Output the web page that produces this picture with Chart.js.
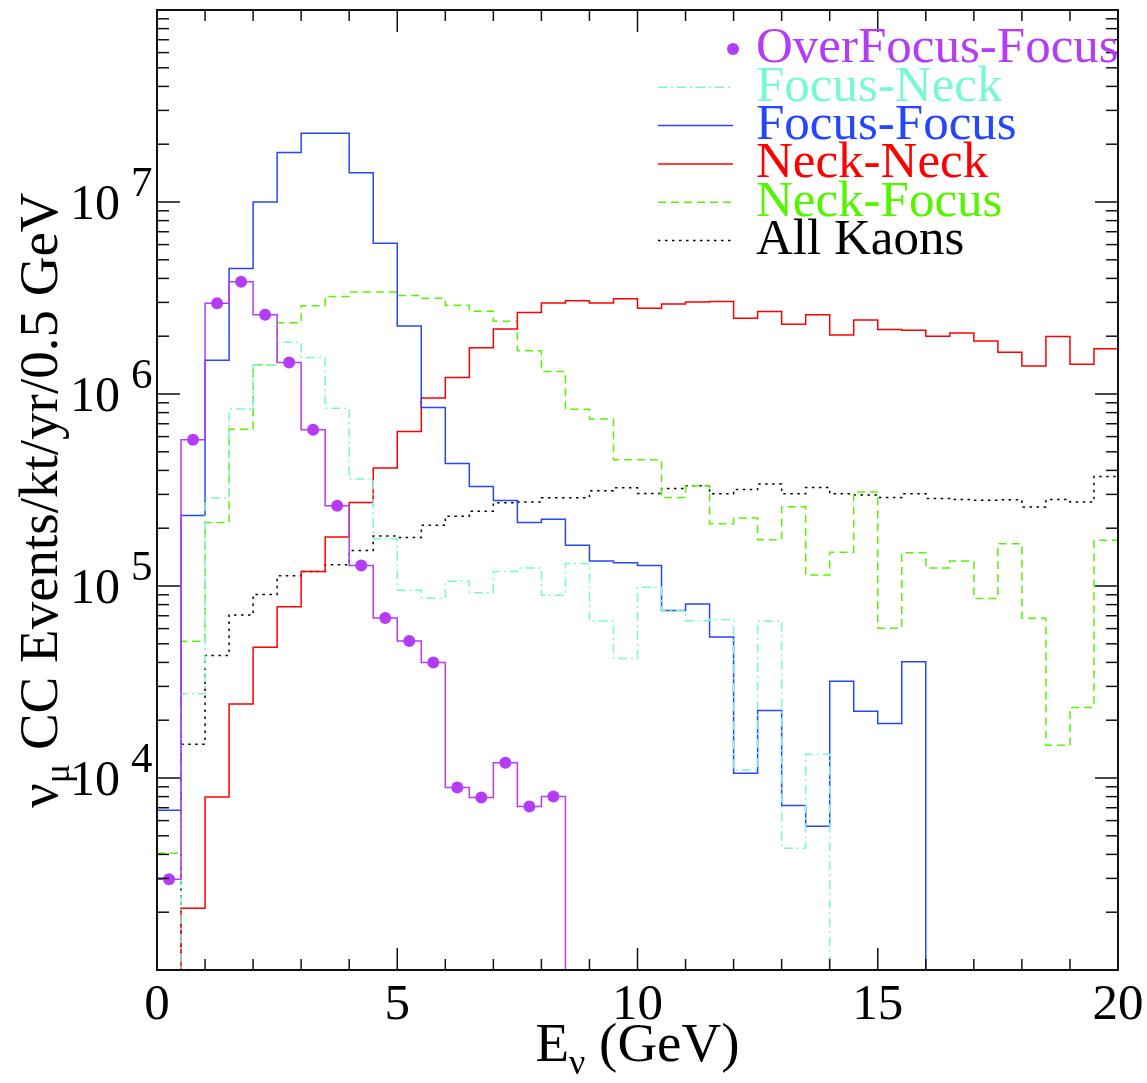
<!DOCTYPE html>
<html>
<head>
<meta charset="utf-8">
<script src="https://cdn.jsdelivr.net/npm/chart.js@4.4.1/dist/chart.umd.min.js"></script>
<style>
  html, body { margin: 0; padding: 0; background: #fff; }
  #wrap { width: 1147px; height: 1083px; }
</style>
</head>
<body>
<div id="wrap"><canvas id="fluxChart" width="1147" height="1083"></canvas></div>
<script>
// nu_mu CC events per 0.5 GeV bin, bins 0-0.5 ... 19.5-20 GeV (0 = empty bin)
const binWidth = 0.5;

const overFocusFocus = [
  2.97e3, 5.77e5, 2.97e6, 3.84e6, 2.59e6, 1.46e6, 6.52e5, 2.62e5, 1.28e5, 6.81e4,
  5.17e4, 3.99e4, 8.93e3, 7.92e3, 1.2e4, 7.1e3, 8.0e3, 0, 0, 0,
  0, 0, 0, 0, 0, 0, 0, 0, 0, 0,
  0, 0, 0, 0, 0, 0, 0, 0, 0, 0,
];
const focusNeck = [
  0, 2.75e4, 2.87e5, 8.35e5, 1.42e6, 1.86e6, 1.55e6, 8.44e5, 3.61e5, 1.76e5,
  9.5e4, 8.65e4, 1.06e5, 9.23e4, 1.19e5, 1.24e5, 8.94e4, 1.31e5, 6.57e4, 4.19e4,
  9.84e4, 7.45e4, 6.6e4, 6.7e4, 1.1e4, 6.55e4, 4.3e3, 1.33e4, 0, 0,
  0, 0, 0, 0, 0, 0, 0, 0, 0, 0,
];
const focusFocus = [
  6.8e3, 2.33e5, 1.5e6, 4.5e6, 1.0e7, 1.81e7, 2.28e7, 2.28e7, 1.42e7, 6.1e6,
  2.26e6, 8.5e5, 4.35e5, 3.3e5, 2.79e5, 2.14e5, 2.23e5, 1.63e5, 1.35e5, 1.32e5,
  1.28e5, 7.45e4, 8.06e4, 5.43e4, 1.06e4, 2.25e4, 7.2e3, 5.6e3, 3.19e4, 2.23e4,
  1.92e4, 4.03e4, 0, 0, 0, 0, 0, 0, 0, 0,
];
const neckNeck = [
  0, 2.1e3, 7.96e3, 2.43e4, 4.8e4, 7.8e4, 1.19e5, 1.8e5, 2.72e5, 4.12e5,
  6.37e5, 9.53e5, 1.22e6, 1.74e6, 2.18e6, 2.66e6, 2.98e6, 3.06e6, 2.98e6, 3.13e6,
  2.8e6, 2.94e6, 3.01e6, 3.03e6, 2.48e6, 2.69e6, 2.31e6, 2.59e6, 2.03e6, 2.43e6,
  2.17e6, 2.15e6, 2.0e6, 2.08e6, 1.89e6, 1.65e6, 1.4e6, 1.99e6, 1.43e6, 1.72e6,
];
const neckFocus = [
  4.06e3, 5.15e4, 2.14e5, 6.55e5, 1.42e6, 2.35e6, 2.88e6, 3.22e6, 3.4e6, 3.4e6,
  3.26e6, 3.15e6, 2.9e6, 2.7e6, 2.39e6, 1.68e6, 1.31e6, 8.32e5, 7.41e5, 4.54e5,
  4.54e5, 2.89e5, 3.33e5, 2.11e5, 2.26e5, 1.74e5, 2.59e5, 1.14e5, 1.5e5, 3.09e5,
  6.03e4, 1.49e5, 1.24e5, 1.35e5, 8.6e4, 1.66e5, 6.8e4, 1.48e4, 2.33e4, 1.73e5,
];
const allKaons = [
  0, 1.5e4, 4.35e4, 7.06e4, 9.04e4, 1.13e5, 1.19e5, 1.29e5, 1.53e5, 1.82e5,
  1.79e5, 2.07e5, 2.31e5, 2.45e5, 2.71e5, 2.74e5, 2.88e5, 2.88e5, 3.13e5, 3.25e5,
  3.03e5, 3.22e5, 3.33e5, 3.02e5, 3.18e5, 3.4e5, 3.02e5, 3.26e5, 3.02e5, 2.98e5,
  2.89e5, 3.02e5, 2.86e5, 2.82e5, 2.8e5, 2.81e5, 2.58e5, 2.82e5, 2.74e5, 3.72e5,
];

const seriesNames = ["OverFocus-Focus", "Focus-Neck", "Focus-Focus", "Neck-Neck", "Neck-Focus", "All Kaons"];
const seriesValues = [overFocusFocus, focusNeck, focusFocus, neckNeck, neckFocus, allKaons];

const xMajorTicks = [0, 5, 10, 15, 20];
const yLabelExps = [4, 5, 6, 7];

const styles = [
  { color: "#b43cf7", dash: [], marker: true },
  { color: "#78f8d6", dash: [9, 4, 2, 4] },
  { color: "#2446ff", dash: [] },
  { color: "#ff0000", dash: [] },
  { color: "#55f500", dash: [8, 5] },
  { color: "#000000", dash: [2.5, 4.5] },
];

const serif = "'Liberation Serif', 'DejaVu Serif', serif";
const emptyFloor = 1; // empty bins fall off the bottom of the log axis

const stepPoints = (vals) => {
  const pts = vals.map((v, i) => ({ x: i * binWidth, y: v > 0 ? v : emptyFloor }));
  pts.push({ x: vals.length * binWidth, y: pts[pts.length - 1].y });
  return pts;
};

const datasets = seriesValues.map((vals, i) => ({
  label: seriesNames[i],
  data: stepPoints(vals),
  stepped: "before",
  borderColor: styles[i].color,
  borderWidth: 1.5,
  borderDash: styles[i].dash,
  pointRadius: 0,
  fill: false,
}));

datasets.unshift({
  label: "OverFocus-Focus markers",
  data: overFocusFocus
    .map((v, i) => (v > 0 ? { x: (i + 0.5) * binWidth, y: v } : null))
    .filter((p) => p),
  showLine: false,
  pointRadius: 6,
  pointBackgroundColor: styles[0].color,
  pointBorderWidth: 0,
});

const line = (ctx, x1, y1, x2, y2) => {
  ctx.beginPath();
  ctx.moveTo(x1, y1);
  ctx.lineTo(x2, y2);
  ctx.stroke();
};

// frame, inward ticks on all four sides, labels and legend
const axesDecor = {
  id: "axesDecor",
  afterDraw(chart) {
    const { ctx, chartArea: a, scales } = chart;
    const x = scales.x;
    const y = scales.y;
    ctx.save();
    ctx.strokeStyle = "#111";
    ctx.lineWidth = 1.5;

    for (let v = 1; v < 20; v++) {
      const px = x.getPixelForValue(v);
      const len = v % 5 === 0 ? 22 : 11;
      line(ctx, px, a.bottom, px, a.bottom - len);
      line(ctx, px, a.top, px, a.top + len);
    }
    for (let e = 3; e < 8; e++) {
      for (let m = 1; m < 10; m++) {
        if (e === 3 && m === 1) continue;
        const py = y.getPixelForValue(m * 10 ** e);
        const len = m === 1 ? 23 : 12;
        line(ctx, a.left, py, a.left + len, py);
        line(ctx, a.right, py, a.right - len, py);
      }
    }
    ctx.lineWidth = 2;
    ctx.strokeRect(a.left, a.top, a.right - a.left, a.bottom - a.top);

    ctx.fillStyle = "#000";
    ctx.font = "51px " + serif;
    ctx.textAlign = "center";
    ctx.textBaseline = "alphabetic";
    xMajorTicks.forEach((v) => {
      ctx.fillText(String(v), x.getPixelForValue(v), 1019);
    });

    ctx.textAlign = "left";
    yLabelExps.forEach((e) => {
      const py = y.getPixelForValue(10 ** e);
      ctx.font = "50px " + serif;
      ctx.fillText("10", 70, py + 17);
      ctx.font = "43px " + serif;
      ctx.fillText(String(e), 131, py - 6);
    });

    // x title: E_nu (GeV)
    ctx.font = "55px " + serif;
    const eW = ctx.measureText("E").width;
    ctx.font = "36px " + serif;
    const nuW = ctx.measureText("ν").width;
    ctx.font = "55px " + serif;
    const restW = ctx.measureText(" (GeV)").width;
    let tx = (a.left + a.right) / 2 - (eW + nuW + restW) / 2;
    ctx.fillText("E", tx, 1061);
    ctx.font = "36px " + serif;
    ctx.fillText("ν", tx + eW, 1074);
    ctx.font = "55px " + serif;
    ctx.fillText(" (GeV)", tx + eW + nuW, 1061);

    // y title, rotated
    ctx.save();
    ctx.translate(57, 808);
    ctx.rotate(-Math.PI / 2);
    ctx.font = "55px " + serif;
    ctx.fillText("ν", 0, 0);
    let w = ctx.measureText("ν").width;
    ctx.font = "36px " + serif;
    ctx.fillText("μ", w, 12);
    w += ctx.measureText("μ").width;
    ctx.font = "55px " + serif;
    ctx.fillText(" CC Events/kt/yr/0.5 GeV", w, 0);
    ctx.restore();

    // legend
    ctx.textBaseline = "middle";
    ctx.font = "51px " + serif;
    seriesNames.forEach((name, i) => {
      const ly = 49 + i * 38.3;
      const st = styles[i];
      if (st.marker) {
        ctx.fillStyle = st.color;
        ctx.beginPath();
        ctx.arc(733, ly, 6, 0, Math.PI * 2);
        ctx.fill();
      } else {
        ctx.strokeStyle = st.color;
        ctx.lineWidth = 1.5;
        ctx.setLineDash(st.dash);
        line(ctx, 658, ly, 733, ly);
        ctx.setLineDash([]);
      }
      ctx.fillStyle = st.color;
      ctx.fillText(name, 756, ly);
    });
    ctx.restore();
  },
};

new Chart(document.getElementById("fluxChart"), {
  type: "line",
  data: { datasets },
  options: {
    responsive: false,
    animation: false,
    devicePixelRatio: 1,
    layout: { padding: { left: 157, right: 29, top: 10, bottom: 113 } },
    plugins: {
      legend: { display: false },
      tooltip: { enabled: false },
    },
    scales: {
      x: { type: "linear", min: 0, max: 20, display: false },
      y: { type: "logarithmic", min: 1e3, max: 1e8, display: false },
    },
  },
  plugins: [axesDecor],
});
</script>
</body>
</html>
